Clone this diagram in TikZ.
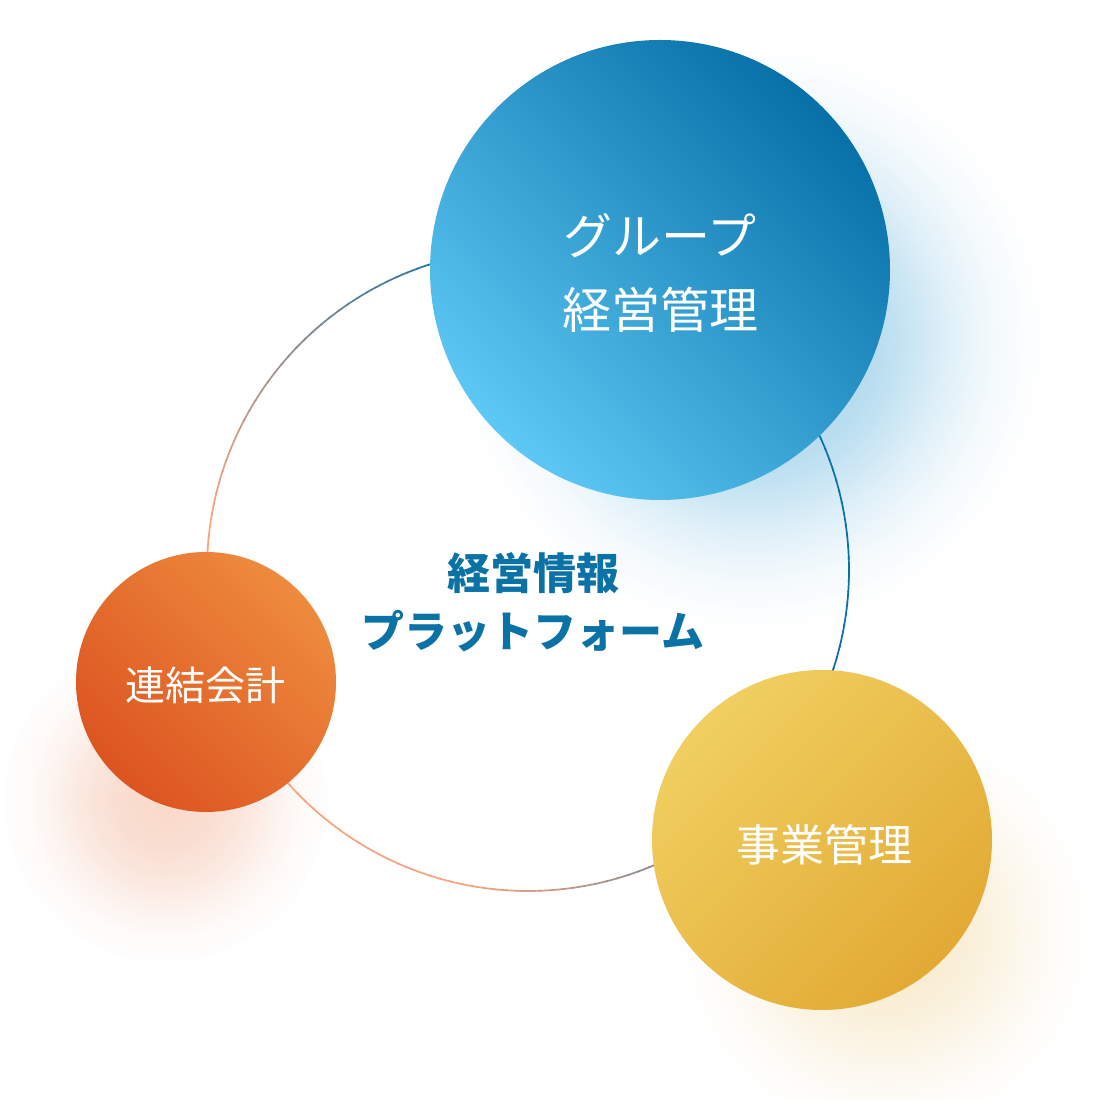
\documentclass[tikz,border=0pt]{standalone}
\usepackage{fontspec}
\newfontfamily\jp{Noto Sans CJK JP}
\usetikzlibrary{fadings}
\definecolor{blueDark}{HTML}{0770A8}
\definecolor{blueLight}{HTML}{5DC8F4}
\definecolor{orangeLight}{HTML}{EE8B3E}
\definecolor{orangeDark}{HTML}{DC5420}
\definecolor{yellowLight}{HTML}{F0CF60}
\definecolor{yellowDark}{HTML}{E2AA34}
\definecolor{ringBlue}{HTML}{0A70A8}
\definecolor{ringSalmon}{HTML}{F8A47E}
\definecolor{titleBlue}{HTML}{0B72A6}
\definecolor{glowBlue}{HTML}{3BA3D6}
\definecolor{glowOrange}{HTML}{E8743C}
\definecolor{glowYellow}{HTML}{E8B545}
\pgfdeclareradialshading{glowshading}{\pgfpointorigin}{%
  color(0bp)=(black!40);
  color(7bp)=(black!48);
  color(12bp)=(black!62);
  color(17bp)=(black!82);
  color(21bp)=(black!94);
  color(25bp)=(black!100);
  color(50bp)=(black!100)}
\pgfdeclarefading{glowfade}{\pgfuseshading{glowshading}}
\tikzset{
  bubble/.style={circle, inner sep=0pt, draw=none},
  glow/.style={path fading=glowfade},
  whitelabel/.style={text=white, inner sep=0pt, anchor=center},
  titlelabel/.style={text=titleBlue, inner sep=0pt, anchor=center, font=\jp\bfseries\fontsize{43}{52}\selectfont},
  ringseg/.style={line width=1.7pt}
}
\begin{document}
\begin{tikzpicture}[x=1pt,y=1pt]
\fill[white] (0,0) rectangle (1100,1100);
\useasboundingbox (0,0) rectangle (1100,1100);
% glows
\fill[glowBlue, glow, opacity=0.85] (752,762) circle (290pt);
\fill[glowOrange, glow, opacity=0.45] (165,300) circle (165pt);
\fill[glowYellow, glow, opacity=0.45] (885,170) circle (210pt);
% ring
\coordinate (ringc) at (528,530);
\foreach \a in {0,2,...,358}{
  \pgfmathsetmacro\m{\a+1}
  \pgfmathsetmacro\p{-321*(0.827*cos(\m)+0.562*sin(\m))}
  \pgfmathsetmacro\t{max(0,min(100,(\p+130)/3.6))}
  \draw[ringseg, ringSalmon!\t!ringBlue] ([shift={(\a:321pt)}]ringc) arc[start angle=\a, end angle=\a+2.3, radius=321pt];
}
% circles
\node[bubble, minimum size=460pt, top color=blueDark, bottom color=blueLight, shading angle=-45] (grp) at (660,830) {};
\node[bubble, minimum size=260pt, top color=orangeLight, bottom color=orangeDark, shading angle=-45] (con) at (206,418) {};
\node[bubble, minimum size=340pt, top color=yellowLight, bottom color=yellowDark, shading angle=45] (biz) at (822,260) {};
% labels
\node[whitelabel, font=\jp\fontsize{49}{59}\selectfont] (grpA) at (660,864) {グループ};
\node[whitelabel, font=\jp\fontsize{49}{59}\selectfont] (grpB) at (660,790) {経営管理};
\node[whitelabel, font=\jp\fontsize{40}{48}\selectfont] (conL) at (205,415) {連結会計};
\node[whitelabel, font=\jp\fontsize{44}{53}\selectfont] (bizL) at (824,255) {事業管理};
\node[titlelabel] (titleA) at (533,527) {経営情報};
\node[titlelabel] (titleB) at (533,469) {プラットフォーム};
\end{tikzpicture}
\end{document}
